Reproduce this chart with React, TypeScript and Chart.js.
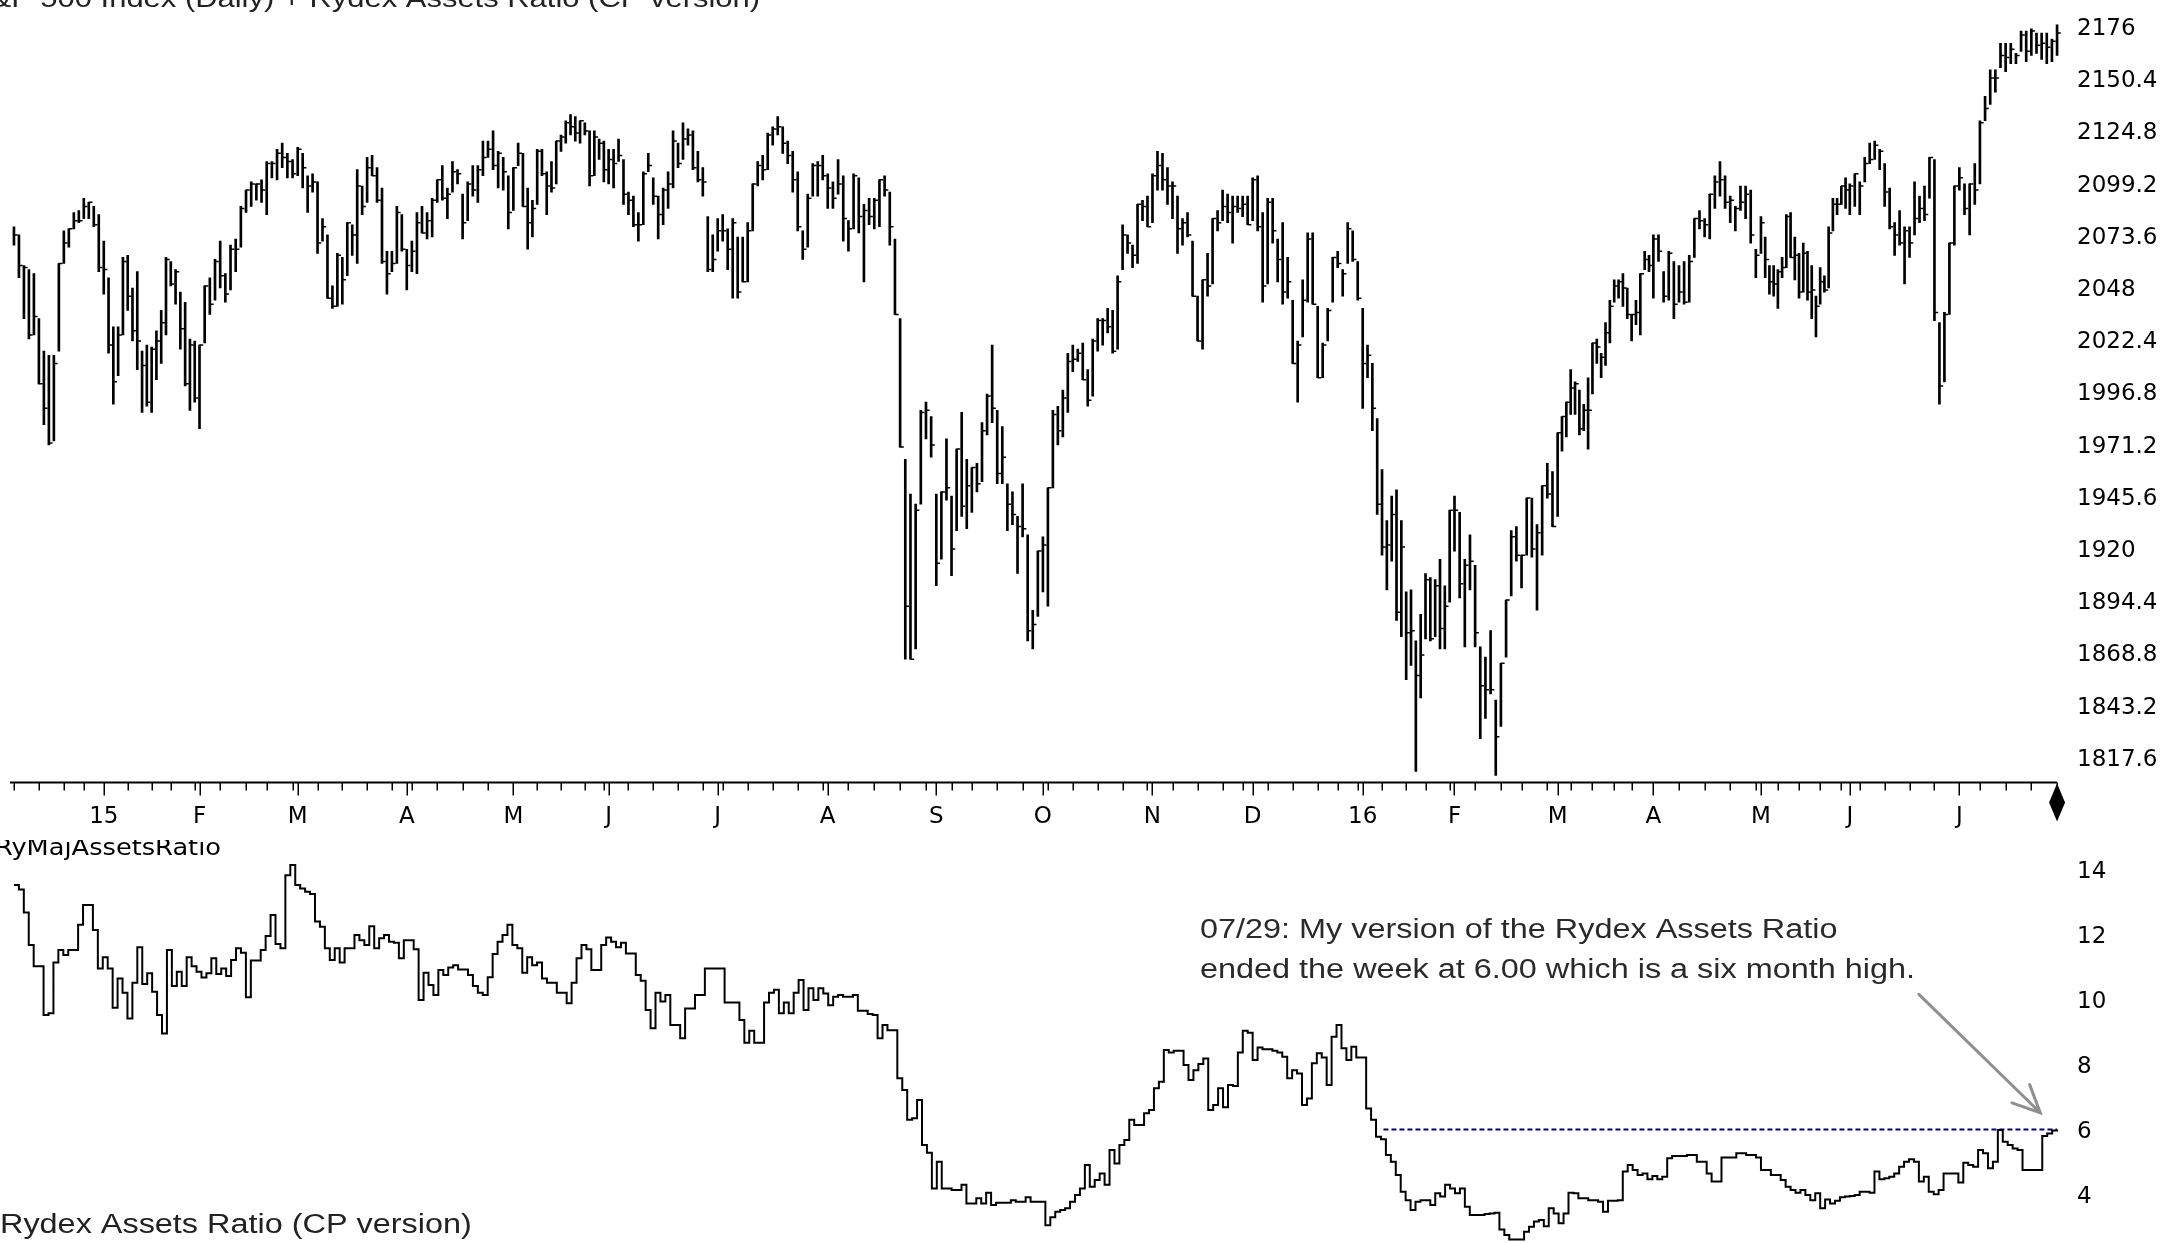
import React, { useEffect, useRef } from 'react';
import { Chart, registerables } from 'chart.js';

Chart.register(...registerables);

// ---------------- data ----------------
const START_DAY = '2014-12-05';
const HOLIDAYS = ['2014-12-25', '2015-01-01', '2015-01-19', '2015-02-16', '2015-04-03', '2015-05-25', '2015-07-03', '2015-09-07', '2015-11-26', '2015-12-25', '2016-01-01', '2016-01-18', '2016-02-15', '2016-03-25', '2016-05-30', '2016-07-04'];

// S&P 500 daily bars: [high, low, close]
const DEC_2014 = [[2079,2070,2075],[2075,2054,2060],[2060,2034,2059],[2058,2024,2026],[2056,2026,2035],[2034,2002,2002],[2018,1982,1990],[2016,1972,1973],[2016,1974,2012],[2061,2018,2061],[2077,2061,2071],[2078,2069,2078],[2086,2078,2082],[2087,2081,2082],[2093,2083,2089],[2091,2083,2091],[2089,2079,2080],[2085,2057,2059]];
const JAN_2015 = [[2072,2046,2058],[2054,2017,2021],[2030,1992,2003],[2030,2006,2026],[2064,2026,2062],[2065,2038,2045],[2049,2023,2028],[2057,2009,2023],[2018,1988,2011],[2021,1991,1993],[2020,1988,2019],[2028,2004,2023],[2038,2012,2032],[2064,2026,2063],[2062,2050,2051],[2058,2041,2057],[2047,2019,2029],[2042,2001,2002],[2024,1989,2021],[2023,1993,1995]];
const FEB_2015 = [[2021,1980,2021],[2050,2022,2050],[2054,2036,2041],[2063,2043,2062],[2072,2049,2055],[2056,2042,2046],[2070,2048,2068],[2073,2057,2068],[2089,2069,2088],[2097,2086,2097],[2101,2089,2100],[2100,2092,2100],[2102,2091,2097],[2111,2085,2110],[2111,2103,2110],[2117,2102,2115],[2120,2108,2113],[2115,2103,2111],[2112,2103,2105]];
const MAR_2015 = [[2118,2104,2117],[2115,2098,2108],[2104,2086,2099],[2105,2096,2101],[2101,2066,2071],[2083,2072,2079],[2075,2044,2044],[2050,2039,2040],[2066,2040,2065],[2064,2041,2053],[2081,2055,2081],[2080,2065,2075],[2107,2061,2099],[2099,2085,2089],[2113,2091,2108],[2114,2104,2104],[2108,2091,2092],[2098,2061,2062],[2067,2046,2056],[2067,2057,2061],[2089,2061,2086],[2085,2067,2068]];
const APR_2015 = [[2068,2048,2060],[2072,2057,2067],[2086,2056,2081],[2089,2076,2076],[2086,2073,2082],[2093,2074,2092],[2102,2091,2102],[2109,2092,2093],[2098,2083,2095],[2111,2096,2106],[2107,2100,2105],[2095,2073,2081],[2101,2082,2100],[2109,2094,2097],[2109,2091,2107],[2121,2104,2113],[2121,2113,2117],[2126,2107,2109],[2116,2098,2115],[2113,2097,2106],[2104,2078,2086]];
const MAY_2015 = [[2108,2087,2108],[2120,2109,2115],[2115,2089,2089],[2098,2068,2081],[2092,2074,2088],[2117,2090,2116],[2117,2104,2105],[2106,2085,2099],[2111,2096,2098],[2121,2100,2121],[2124,2116,2123],[2131,2120,2130],[2134,2124,2128],[2133,2121,2125],[2131,2120,2131],[2130,2124,2126],[2126,2099,2104],[2126,2104,2123],[2122,2112,2120],[2121,2101,2107]];
const JUN_2015 = [[2117,2100,2112],[2117,2098,2110],[2122,2111,2114],[2112,2090,2095],[2096,2085,2092],[2094,2079,2080],[2086,2072,2080],[2106,2080,2105],[2115,2106,2109],[2103,2090,2094],[2094,2073,2085],[2098,2080,2097],[2106,2088,2100],[2126,2098,2121],[2120,2108,2110],[2130,2112,2122],[2127,2119,2124],[2126,2107,2108],[2116,2101,2102],[2108,2094,2101],[2084,2057,2058],[2075,2057,2063]];
const JUL_2015 = [[2083,2067,2077],[2085,2072,2077],[2078,2058,2068],[2083,2044,2081],[2074,2044,2047],[2074,2052,2052],[2081,2052,2077],[2100,2077,2100],[2111,2099,2109],[2114,2102,2107],[2125,2107,2124],[2128,2119,2127],[2133,2124,2128],[2128,2115,2120],[2121,2110,2114],[2116,2096,2102],[2106,2077,2079],[2077,2063,2068],[2095,2069,2093],[2110,2094,2109],[2111,2094,2109],[2114,2102,2104]];
const AUG_2015 = [[2105,2088,2098],[2101,2088,2093],[2112,2095,2100],[2104,2072,2083],[2082,2067,2078],[2105,2078,2104],[2103,2076,2084],[2090,2052,2087],[2093,2080,2084],[2093,2078,2092],[2102,2079,2102],[2104,2094,2097],[2096,2070,2079],[2073,2036,2036],[2034,1971,1971],[1965,1867,1893],[1948,1867,1867],[1943,1872,1940],[1989,1943,1988],[1993,1975,1989],[1986,1966,1972]];
const SEP_2015 = [[1948,1903,1914],[1949,1916,1949],[1975,1945,1951],[1947,1908,1921],[1970,1930,1970],[1988,1937,1942],[1965,1931,1952],[1961,1939,1961],[1963,1949,1953],[1983,1954,1979],[1997,1977,1996],[2021,1983,1990],[1989,1953,1958],[1981,1953,1966],[1953,1930,1943],[1949,1933,1938],[1937,1909,1932],[1953,1927,1931],[1928,1876,1881],[1891,1872,1884],[1920,1888,1920]];
const OCT_2015 = [[1927,1900,1923],[1951,1893,1951],[1989,1951,1987],[1991,1972,1979],[1999,1976,1995],[2017,1988,2013],[2021,2008,2014],[2019,2013,2017],[2022,2004,2004],[2009,1991,1994],[2024,1996,2023],[2034,2018,2033],[2034,2021,2033],[2039,2027,2030],[2038,2017,2018],[2055,2019,2052],[2080,2058,2075],[2075,2066,2071],[2070,2059,2065],[2090,2061,2090],[2092,2082,2089],[2094,2079,2079]];
const NOV_2015 = [[2105,2081,2104],[2116,2097,2109],[2115,2097,2102],[2108,2090,2099],[2101,2083,2099],[2094,2066,2078],[2083,2070,2081],[2086,2074,2075],[2072,2045,2045],[2045,2023,2023],[2053,2019,2053],[2066,2045,2050],[2083,2051,2083],[2087,2077,2081],[2097,2082,2089],[2095,2081,2086],[2094,2071,2089],[2094,2086,2088],[2094,2084,2090],[2094,2080,2080]];
const DEC_2015 = [[2103,2082,2102],[2104,2077,2079],[2086,2042,2050],[2093,2051,2091],[2093,2071,2077],[2073,2052,2063],[2081,2041,2047],[2064,2044,2052],[2043,2012,2012],[2023,1993,2021],[2053,2025,2043],[2076,2042,2073],[2076,2041,2041],[2040,2005,2005],[2022,2005,2021],[2039,2023,2038],[2064,2042,2064],[2067,2059,2061],[2058,2045,2056],[2081,2061,2078],[2077,2062,2063],[2062,2043,2044]];
const JAN_2016 = [[2039,1990,2012],[2021,2005,2016],[2012,1979,1990],[1985,1938,1943],[1960,1918,1922],[1935,1901,1923],[1947,1915,1938],[1950,1886,1890],[1935,1878,1922],[1900,1857,1880],[1901,1864,1881],[1876,1812,1859],[1889,1848,1869],[1909,1877,1906],[1907,1876,1877],[1906,1878,1903],[1916,1872,1882],[1903,1872,1893],[1940,1895,1940]];
const FEB_2016 = [[1947,1920,1940],[1939,1897,1904],[1916,1873,1913],[1928,1901,1915],[1913,1873,1880],[1873,1828,1854],[1868,1838,1852],[1881,1850,1852],[1847,1810,1829],[1865,1834,1865],[1896,1868,1896],[1930,1898,1927],[1932,1915,1918],[1918,1902,1918],[1946,1918,1946],[1946,1917,1921],[1933,1891,1929],[1952,1918,1952],[1963,1946,1948],[1959,1932,1932]];
const MAR_2016 = [[1978,1937,1978],[1986,1969,1986],[1993,1976,1993],[2009,1987,2000],[2003,1987,2002],[1999,1977,1980],[1992,1979,1989],[2005,1970,1989],[2022,1997,2022],[2024,2012,2020],[2017,2005,2015],[2032,2011,2027],[2043,2022,2040],[2053,2042,2050],[2053,2044,2052],[2056,2040,2049],[2049,2034,2036],[2036,2023,2036],[2043,2031,2037],[2056,2026,2056],[2067,2058,2063],[2065,2057,2060]];
const APR_2016 = [[2075,2044,2073],[2075,2062,2067],[2057,2042,2045],[2067,2043,2066],[2062,2034,2041],[2060,2042,2047],[2062,2041,2042],[2065,2042,2062],[2083,2064,2083],[2087,2078,2082],[2083,2074,2080],[2095,2073,2095],[2104,2088,2101],[2111,2094,2102],[2104,2088,2091],[2094,2081,2092],[2089,2077,2088],[2099,2087,2091],[2099,2083,2095],[2097,2071,2075],[2068,2054,2065]];
const MAY_2016 = [[2084,2066,2081],[2074,2054,2063],[2060,2046,2052],[2060,2045,2051],[2058,2039,2057],[2064,2054,2059],[2085,2059,2084],[2086,2064,2064],[2074,2053,2065],[2066,2044,2047],[2071,2047,2066],[2067,2043,2047],[2060,2034,2048],[2045,2025,2040],[2059,2041,2052],[2055,2047,2048],[2079,2049,2076],[2093,2077,2090],[2093,2085,2090],[2099,2090,2099],[2103,2088,2097]];
const JUN_2016 = [[2100,2085,2099],[2105,2089,2105],[2101,2085,2099],[2113,2101,2110],[2120,2110,2112],[2121,2112,2119],[2117,2107,2116],[2110,2089,2096],[2098,2078,2079],[2081,2065,2075],[2087,2070,2071],[2079,2051,2077],[2079,2064,2071],[2101,2075,2083],[2094,2081,2088],[2099,2082,2085],[2113,2093,2113],[2112,2033,2037],[2032,1992,2001],[2037,2003,2036],[2071,2036,2071],[2099,2070,2099]];
const JUL_2016 = [[2108,2097,2103],[2100,2085,2088],[2100,2075,2100],[2110,2090,2097],[2131,2100,2130],[2143,2131,2137],[2156,2139,2152],[2156,2145,2152],[2169,2157,2163],[2169,2155,2162],[2169,2159,2166],[2164,2159,2163],[2175,2165,2173],[2175,2160,2165],[2176,2163,2175],[2174,2164,2168],[2174,2161,2169],[2174,2159,2167],[2171,2160,2170],[2178,2163,2174]];

// Rydex assets ratio (CP version), daily
const RATIO_A = [13.53,13.39,12.68,11.68,11.03,11.03,9.53,9.58,11.14,11.53,11.37,11.53,11.53,12.30,12.91,12.91,12.14,10.96,11.30,10.96,9.75,10.65,10.21,9.42,10.52,11.61,10.48,10.81,10.24,9.53,8.96,11.53,10.42,10.86,10.42,11.30,11.03,10.86,10.68,10.81,11.27,10.79,10.96,10.73,11.22,11.58,11.44,10.07,11.20,11.20,11.53,11.96,12.60,11.71,11.58,13.83,14.14,13.53,13.42,13.32,13.25,12.40,12.24,11.58,11.22,11.58,11.14,11.58,11.58,11.99,11.83,11.68,12.26,11.58,11.89,11.99,11.78,11.75,11.27,11.83,11.83,11.55,9.99,10.83,10.45,10.14,10.91,10.76,10.99,11.06,10.93,10.93,10.76,10.42,10.21,10.14,10.69,11.40,11.78,11.99];
const RATIO_B = [12.30,11.68,11.58,10.83,11.30,11.06,11.14,10.65,10.52,10.52,10.21,10.21,9.89,10.52,11.27,11.68,11.55,10.91,10.91,11.68,11.91,11.78,11.61,11.75,11.42,11.42,10.76,10.58,9.68,9.12,10.21,9.94,10.14,9.22,9.22,8.81,9.73,9.73,10.14,10.14,10.96,10.96,10.96,10.96,9.91,9.91,9.91,9.37,8.67,9.04,8.67,8.67,9.91,10.21,10.30,9.58,9.91,9.58,10.21,10.60,9.68,10.35,9.99,10.35,10.19,9.83,10.09,10.14,10.09,10.09,10.14,9.66,9.66,9.56,9.53,8.81,9.22,9.06,9.06,7.58,7.22,6.30,6.35,6.91,5.53,5.29,4.19,5.01,4.19,4.19,4.14,4.14,4.30,3.73,3.73,3.89,3.73,4.06,3.68,3.75];
const RATIO_C = [3.75,3.75,3.83,3.78,3.78,3.92,3.78,3.78,3.78,3.06,3.30,3.47,3.53,3.58,3.78,3.99,4.19,4.91,4.24,4.45,4.65,4.30,5.37,4.96,5.53,5.68,6.30,6.14,6.14,6.50,6.60,7.27,7.47,8.45,8.37,8.43,8.43,7.99,7.53,7.83,8.02,8.19,6.60,6.76,7.27,6.69,7.37,7.34,8.37,9.04,8.98,8.14,8.53,8.47,8.47,8.43,8.37,8.24,7.58,7.83,7.73,6.76,6.96,8.04,8.35,8.22,7.37,8.86,9.22,8.50,8.14,8.55,8.22,8.22,6.65,6.30,5.78,5.70,5.22,5.01,4.60,4.09,3.83,3.53,3.78,3.83,3.83,3.68,4.04,3.94,4.30,4.19,4.04,4.19,3.63,3.37,3.37,3.37,3.40,3.42];
const RATIO_D = [3.44,2.93,2.76,2.62,2.62,2.62,2.86,3.01,3.17,3.22,3.03,3.58,3.42,3.12,3.42,4.06,4.04,3.89,3.89,3.83,3.83,3.78,3.47,3.81,3.81,3.83,4.71,4.91,4.76,4.60,4.65,4.47,4.57,4.47,4.55,5.12,5.19,5.19,5.19,5.22,5.22,5.01,5.01,4.65,4.40,4.40,5.14,5.14,5.14,5.27,5.27,5.22,5.22,5.14,4.76,4.76,4.60,4.60,4.45,4.24,4.14,4.06,4.14,3.99,3.83,4.04,3.58,3.85,3.73,3.81,3.92,3.94,3.96,3.99,4.09,4.09,4.06,4.71,4.47,4.50,4.55,4.65,4.86,5.01,5.09,5.01,4.40,4.55,4.09,4.01,4.14,4.65,4.65,4.65,4.37,4.98,4.91,4.86,5.37,5.27,4.81,5.01,5.99,5.63,5.53,5.42,5.37,4.76,4.76,4.76,4.76,5.80,5.88,5.97,6.00];

const MONTH_LABELS = ['15', 'F', 'M', 'A', 'M', 'J', 'J', 'A', 'S', 'O', 'N', 'D', '16', 'F', 'M', 'A', 'M', 'J', 'J'];
const PRICE_TICKS = [2176, 2150.4, 2124.8, 2099.2, 2073.6, 2048, 2022.4, 1996.8, 1971.2, 1945.6, 1920, 1894.4, 1868.8, 1843.2, 1817.6];
const RATIO_TICKS = [14, 12, 10, 8, 6, 4];
const REF_LEVEL = 6.0;
const REF_FROM_INDEX = 277.5;

// time-axis slots of the source chart: [bar number, slot on the axis] (its month marks are not evenly spread)
const AXIS_ANCHORS = [[0, 0], [18, 18.2], [38, 37.6], [57, 57.5], [79, 79.6], [100, 101.2], [120, 120.5], [142, 142.6], [164, 164.9], [185, 186.9], [206, 208.5], [228, 230.7], [248, 251], [270, 273.3], [289, 291.9], [309, 312.8], [331, 332.2], [352, 354], [373, 372], [395, 394.2], [414, 414]];

const TITLE = 'S&P 500 Index (Daily) + Rydex Assets Ratio (CP version)';
const PANEL_LABEL = 'RyMajAssetsRatio';
const FOOTER = 'Rydex Assets Ratio (CP version)';
const NOTE_LINES = ['07/29: My version of the Rydex Assets Ratio', 'ended the week at 6.00 which is a six month high.'];

const BARS = [...DEC_2014, ...JAN_2015, ...FEB_2015, ...MAR_2015, ...APR_2015, ...MAY_2015, ...JUN_2015, ...JUL_2015, ...AUG_2015, ...SEP_2015, ...OCT_2015, ...NOV_2015, ...DEC_2015, ...JAN_2016, ...FEB_2016, ...MAR_2016, ...APR_2016, ...MAY_2016, ...JUN_2016, ...JUL_2016];
const RATIO = [...RATIO_A, ...RATIO_B, ...RATIO_C, ...RATIO_D];

// ---------------- layout ----------------
const W = 2178;
const TOP_H = 840;
const BOT_H = 403;
const PAD_L = 10;
const PAD_R = 116;
const X_MIN = -0.8;
const X_MAX = 415.0;
const LABEL_X = 2077;
const AXIS_FONT = '23px "DejaVu Sans", Verdana, sans-serif';
const TEXT_FONT = '27px "Liberation Sans", Arial, sans-serif';

function slot(i: number): number {
  for (let k = 1; k < AXIS_ANCHORS.length; k++) {
    const [b0, s0] = AXIS_ANCHORS[k - 1];
    const [b1, s1] = AXIS_ANCHORS[k];
    if (i <= b1 || k === AXIS_ANCHORS.length - 1) {
      return s0 + ((i - b0) * (s1 - s0)) / (b1 - b0);
    }
  }
  return i;
}

function tradingDays(n: number): Date[] {
  const hol = new Set(HOLIDAYS);
  const out: Date[] = [];
  const d = new Date(START_DAY + 'T00:00:00Z');
  while (out.length < n) {
    const wd = d.getUTCDay();
    const key = d.toISOString().slice(0, 10);
    if (wd !== 0 && wd !== 6 && !hol.has(key)) out.push(new Date(d.getTime()));
    d.setUTCDate(d.getUTCDate() + 1);
  }
  return out;
}

const DAYS = tradingDays(BARS.length);
const MONTH_STARTS: number[] = [];
const WEEK_ENDS: number[] = [];
DAYS.forEach((d, i) => {
  if (i > 0 && d.getUTCMonth() !== DAYS[i - 1].getUTCMonth()) MONTH_STARTS.push(i);
  const next = DAYS[i + 1];
  if (!next || next.getUTCDay() <= d.getUTCDay()) WEEK_ENDS.push(i);
});

function stretchText(ctx: CanvasRenderingContext2D, text: string, x: number, y: number, font: string, sx: number, align: CanvasTextAlign, color: string) {
  ctx.save();
  ctx.font = font;
  ctx.fillStyle = color;
  ctx.textAlign = align;
  ctx.textBaseline = 'alphabetic';
  ctx.translate(x, y);
  ctx.scale(sx, 1);
  ctx.fillText(text, 0, 0);
  ctx.restore();
}

const upperDecor = {
  id: 'upperDecor',
  afterDraw(chart: any) {
    const { ctx, chartArea } = chart;
    const xs = chart.scales.x;
    const ys = chart.scales.y;
    ctx.save();
    stretchText(ctx, TITLE, 760, 7, '26px "Liberation Sans", Arial, sans-serif', 1.19, 'right', '#222');

    ctx.fillStyle = '#000';
    ctx.font = AXIS_FONT;
    ctx.textAlign = 'left';
    ctx.textBaseline = 'middle';
    PRICE_TICKS.forEach((v) => ctx.fillText(String(v), LABEL_X, ys.getPixelForValue(v)));

    const ay = chartArea.bottom + 0.5;
    const lastX = xs.getPixelForValue(slot(BARS.length - 1));
    ctx.strokeStyle = '#000';
    ctx.lineWidth = 2;
    ctx.beginPath();
    ctx.moveTo(chartArea.left, ay);
    ctx.lineTo(lastX, ay);
    ctx.stroke();

    ctx.lineWidth = 1.5;
    ctx.beginPath();
    WEEK_ENDS.forEach((i) => {
      const px = Math.round(xs.getPixelForValue(slot(i))) + 0.25;
      ctx.moveTo(px, ay);
      ctx.lineTo(px, ay + 8);
    });
    MONTH_STARTS.forEach((i) => {
      const px = Math.round(xs.getPixelForValue(slot(i))) + 0.25;
      ctx.moveTo(px, ay);
      ctx.lineTo(px, ay + 13);
    });
    ctx.stroke();

    ctx.textAlign = 'center';
    ctx.textBaseline = 'alphabetic';
    MONTH_STARTS.forEach((i, k) => {
      if (MONTH_LABELS[k]) ctx.fillText(MONTH_LABELS[k], xs.getPixelForValue(slot(i)), ay + 40);
    });

    // end-of-data diamond marker
    ctx.fillStyle = '#000';
    ctx.beginPath();
    ctx.moveTo(lastX, ay + 1);
    ctx.lineTo(lastX + 8, ay + 20);
    ctx.lineTo(lastX, ay + 39);
    ctx.lineTo(lastX - 8, ay + 20);
    ctx.closePath();
    ctx.fill();
    ctx.restore();
  },
};

const lowerDecor = {
  id: 'lowerDecor',
  afterDraw(chart: any) {
    const { ctx } = chart;
    const xs = chart.scales.x;
    const ys = chart.scales.y;
    ctx.save();
    ctx.fillStyle = '#000';
    ctx.font = AXIS_FONT;
    ctx.textAlign = 'left';
    ctx.textBaseline = 'middle';
    RATIO_TICKS.forEach((v) => ctx.fillText(String(v), LABEL_X, ys.getPixelForValue(v) + 2));

    // panel label, stretched to the width it has in the source
    const lw = ctx.measureText(PANEL_LABEL).width || 1;
    stretchText(ctx, PANEL_LABEL, -5, 15, AXIS_FONT, 226 / lw, 'left', '#000');

    stretchText(ctx, NOTE_LINES[0], 1200, 98, TEXT_FONT, 1.2, 'left', '#2a2a2a');
    stretchText(ctx, NOTE_LINES[1], 1200, 138, TEXT_FONT, 1.2, 'left', '#2a2a2a');
    stretchText(ctx, FOOTER, 0, 393, TEXT_FONT, 1.2, 'left', '#222');

    // arrow pointing at the latest reading
    const fx = xs.getPixelForValue(386.0);
    const fy = ys.getPixelForValue(10.16);
    const tx = xs.getPixelForValue(410.6);
    const ty = ys.getPixelForValue(6.52);
    const ang = Math.atan2(ty - fy, tx - fx);
    const head = 30;
    const spread = (25 * Math.PI) / 180;
    ctx.strokeStyle = '#8f8f8f';
    ctx.lineWidth = 3;
    ctx.lineCap = 'round';
    ctx.beginPath();
    ctx.moveTo(fx, fy);
    ctx.lineTo(tx, ty);
    ctx.moveTo(tx - head * Math.cos(ang - spread), ty - head * Math.sin(ang - spread));
    ctx.lineTo(tx, ty);
    ctx.lineTo(tx - head * Math.cos(ang + spread), ty - head * Math.sin(ang + spread));
    ctx.stroke();
    ctx.restore();
  },
};

export default function App() {
  const topRef = useRef<HTMLCanvasElement>(null);
  const botRef = useRef<HTMLCanvasElement>(null);

  useEffect(() => {
    document.body.style.margin = '0';
    document.body.style.overflow = 'hidden';

    const top = new Chart(topRef.current as HTMLCanvasElement, {
      type: 'bar',
      data: {
        datasets: [
          {
            type: 'bar',
            data: BARS.map((b, i) => ({ x: slot(i), y: [b[1], b[0]] })) as any,
            backgroundColor: '#000',
            borderWidth: 0,
            barThickness: 2,
          } as any,
          {
            type: 'scatter',
            data: BARS.map((b, i) => ({ x: slot(i) + 0.35, y: b[2] })),
            pointStyle: 'line',
            pointRadius: 2,
            pointBorderWidth: 1.5,
            pointBorderColor: '#000',
            pointBackgroundColor: '#000',
          } as any,
        ],
      },
      options: {
        animation: false,
        responsive: false,
        maintainAspectRatio: false,
        events: [],
        layout: { padding: { left: PAD_L, right: PAD_R, top: 0, bottom: 58 } },
        plugins: { legend: { display: false }, tooltip: { enabled: false } },
        scales: {
          x: { type: 'linear', min: X_MIN, max: X_MAX, offset: false, display: false },
          y: { type: 'linear', min: 1806.79, max: 2187.49, beginAtZero: false, display: false },
        },
      } as any,
      plugins: [upperDecor],
    });

    const bottom = new Chart(botRef.current as HTMLCanvasElement, {
      type: 'line',
      data: {
        datasets: [
          {
            data: RATIO.map((v, i) => ({ x: i, y: v })),
            borderColor: '#000',
            borderWidth: 2,
            stepped: true,
            pointRadius: 0,
            fill: false,
            borderJoinStyle: 'miter',
          } as any,
          {
            data: [
              { x: REF_FROM_INDEX, y: REF_LEVEL },
              { x: RATIO.length - 1, y: REF_LEVEL },
            ],
            borderColor: '#000080',
            borderWidth: 2,
            borderDash: [5, 3],
            pointRadius: 0,
            fill: false,
          } as any,
        ],
      },
      options: {
        animation: false,
        responsive: false,
        maintainAspectRatio: false,
        events: [],
        layout: { padding: { left: PAD_L, right: PAD_R, top: 0, bottom: 0 } },
        plugins: { legend: { display: false }, tooltip: { enabled: false } },
        scales: {
          x: { type: 'linear', min: X_MIN, max: X_MAX, display: false },
          y: { type: 'linear', min: 2.511, max: 14.911, display: false },
        },
      } as any,
      plugins: [lowerDecor],
    });

    return () => {
      top.destroy();
      bottom.destroy();
    };
  }, []);

  return (
    <div style={{ position: 'absolute', left: 0, top: 0, width: W, height: TOP_H + BOT_H, background: '#fff', overflow: 'hidden' }}>
      <canvas ref={topRef} width={W} height={TOP_H} style={{ position: 'absolute', left: 0, top: 0, width: W, height: TOP_H, display: 'block' }} />
      <canvas ref={botRef} width={W} height={BOT_H} style={{ position: 'absolute', left: 0, top: TOP_H, width: W, height: BOT_H, display: 'block' }} />
    </div>
  );
}
